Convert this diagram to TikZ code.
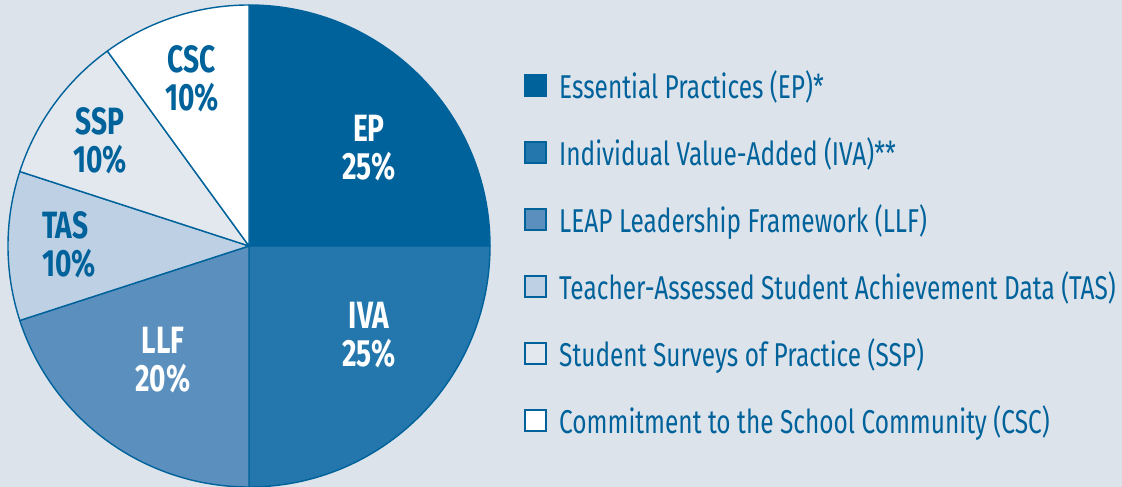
\documentclass[tikz,border=0pt]{standalone}
\usepackage{fontspec}
\setmainfont[FakeStretch=0.74]{Fira Sans}
\usepackage{tikz}
\definecolor{bgc}{HTML}{DCE3EA}
\definecolor{pieline}{HTML}{00629B}
\definecolor{epc}{HTML}{00629B}
\definecolor{ivac}{HTML}{2377AC}
\definecolor{llfc}{HTML}{5B90BE}
\definecolor{tasc}{HTML}{BED0E4}
\definecolor{sspc}{HTML}{E2E8EE}
\definecolor{cscc}{HTML}{FFFFFF}

\begin{document}
\begin{tikzpicture}[x=1pt,y=1pt,
  wedge/.style={draw=pieline,line width=1.4pt,line join=round},
  keybox/.style={draw=pieline,line width=2pt,minimum size=21pt,inner sep=0pt},
  keytext/.style={anchor=base west,text=pieline,inner sep=0pt,font=\fontsize{33}{36}\selectfont},
  slicetext/.style={align=center,inner sep=0pt,font=\fontsize{38}{38}\selectfont\bfseries}]
\useasboundingbox[fill=bgc](0,0)rectangle(1122,487);
\coordinate(o)at(249,241);
% pie wedges
\filldraw[wedge,fill=epc](o)--++(90:241)arc[start angle=90,end angle=0,radius=241]--cycle;
\filldraw[wedge,fill=ivac](o)--++(0:241)arc[start angle=0,end angle=-90,radius=241]--cycle;
\filldraw[wedge,fill=llfc](o)--++(-90:241)arc[start angle=-90,end angle=-162,radius=241]--cycle;
\filldraw[wedge,fill=tasc](o)--++(-162:241)arc[start angle=-162,end angle=-198,radius=241]--cycle;
\filldraw[wedge,fill=sspc](o)--++(162:241)arc[start angle=162,end angle=126,radius=241]--cycle;
\filldraw[wedge,fill=cscc](o)--++(126:241)arc[start angle=126,end angle=90,radius=241]--cycle;
% slice labels
\node[slicetext,text=white](ep)at(369,339){EP\\25\%};
\node[slicetext,text=white](iva)at(369,152){IVA\\25\%};
\node[slicetext,text=white](llf)at(163,127){LLF\\20\%};
\node[slicetext,text=pieline,align=left,anchor=west](tas)at(42,242){TAS\\10\%};
\node[slicetext,text=pieline](ssp)at(100,346){SSP\\10\%};
\node[slicetext,text=pieline](csc)at(192,408){CSC\\10\%};
% legend
\foreach \n/\c/\t [count=\i] in {ep/epc/Essential Practices (EP)*,
    iva/ivac/Individual Value-Added (IVA)**,
    llf/llfc/LEAP Leadership Framework (LLF),
    tas/tasc/Teacher-Assessed Student Achievement Data (TAS),
    ssp/sspc/Student Surveys of Practice (SSP),
    csc/cscc/Commitment to the School Community (CSC)}
  {\node[keybox,fill=\c](k\n)at(535,468-67*\i){};
   \node[keytext](t\n)at(559,455-67*\i){\t};}
\end{tikzpicture}
\end{document}
